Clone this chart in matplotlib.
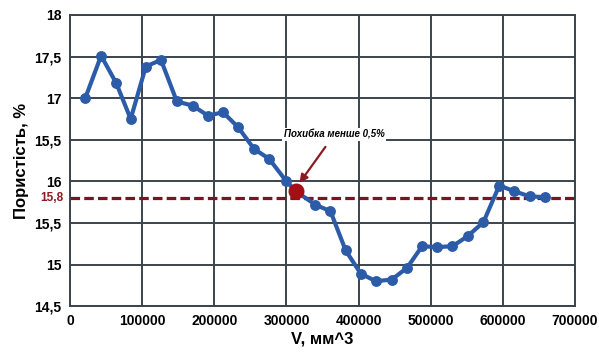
import matplotlib.pyplot as plt

# porosity vs sample volume
vol = [21000, 43000, 64000, 84000, 105000, 126000, 148000, 170000, 191000, 212000,
       233000, 255000, 276000, 299000, 313000, 340000, 361000, 382000, 403000, 424000,
       446000, 467000, 488000, 509000, 530000, 551000, 573000, 595000, 616000, 637000,
       658000]
por = [17.0, 17.51, 17.18, 16.75, 17.38, 17.46, 16.96, 16.91, 16.79, 16.83,
       16.65, 16.39, 16.27, 16.01, 15.88, 15.72, 15.64, 15.17, 14.89, 14.80,
       14.82, 14.96, 15.22, 15.21, 15.22, 15.34, 15.51, 15.95, 15.88, 15.82,
       15.81]

y_ticks = [14.5, 15, 15.5, 16, 16.5, 17, 17.5, 18]
y_labels = ['14,5', '15', '15,5', '16', '15,5', '17', '17,5', '18']
x_ticks = [0, 100000, 200000, 300000, 400000, 500000, 600000, 700000]

level = 15.8
level_label = '15,8'
mark_idx = 14

plt.rcParams['font.family'] = ['Liberation Sans', 'DejaVu Sans']

fig = plt.figure(figsize=(5.99, 3.56), dpi=100)
ax = fig.add_axes([0.117, 0.14, 0.843, 0.818])

ax.set_xlim(0, 700000)
ax.set_ylim(14.5, 18)
ax.set_xticks(x_ticks)
ax.set_xticklabels([str(x) for x in x_ticks], fontsize=10, fontweight='bold')
ax.set_yticks(y_ticks)
ax.set_yticklabels(y_labels, fontsize=10, fontweight='bold')
ax.tick_params(length=0, pad=6)
ax.grid(True, color='#3b434d', linewidth=1.4)
ax.set_axisbelow(True)
for s in ax.spines.values():
    s.set_color('#3b434d')
    s.set_linewidth(1.4)

ax.axhline(level, color='#7a1420', linewidth=2.3, dashes=(3.0, 1.3), zorder=2)
ax.text(-9000, level, level_label, color='#8b1a22', fontsize=8.5, fontweight='bold',
        ha='right', va='center')

ax.plot(vol, por, color='#2c5ca8', linewidth=3.0, marker='o', markersize=6.8,
        solid_joinstyle='round', zorder=3)
ax.plot(vol[mark_idx], por[mark_idx], 'o', color='#a30f14', markersize=10.5, zorder=4)

ax.annotate('Похибка менше 0,5%', xy=(vol[mark_idx] + 5000, por[mark_idx] + 0.1),
            xytext=(366000, 16.56), fontsize=7, fontstyle='italic', fontweight='bold',
            ha='center', va='center',
            bbox=dict(boxstyle='square,pad=0.15', fc='white', ec='none'),
            arrowprops=dict(arrowstyle='-|>', color='#8b1a22', lw=1.6,
                            mutation_scale=12, shrinkA=5, shrinkB=0),
            zorder=5)

ax.set_xlabel('V, мм^3', fontsize=12, fontweight='bold', labelpad=2)
ax.set_ylabel('Пористість, %', fontsize=12, fontweight='bold', labelpad=4)

fig.savefig('out.png', dpi=100)
